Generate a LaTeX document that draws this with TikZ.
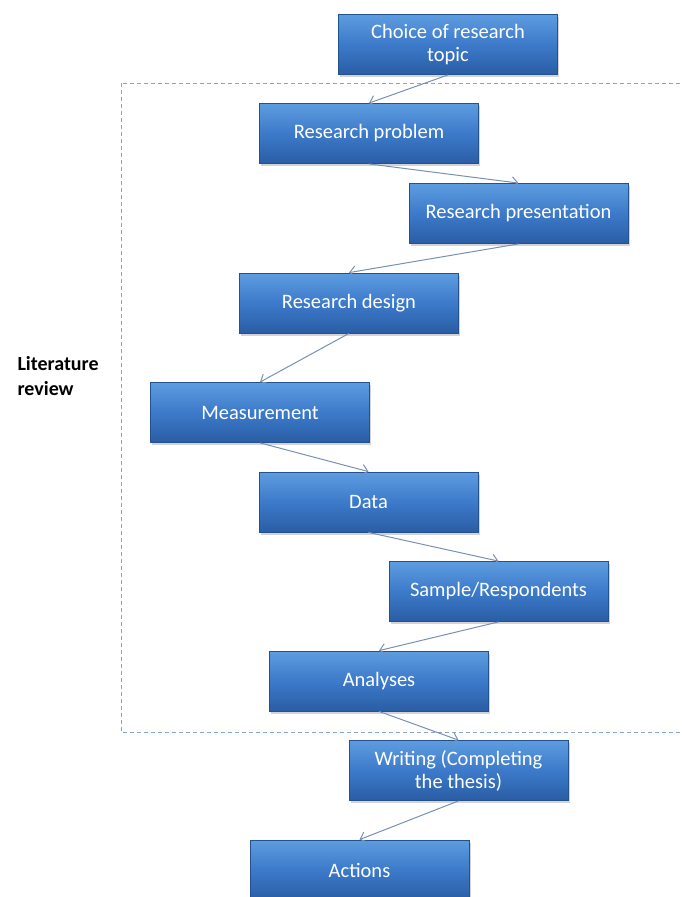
\documentclass[tikz,border=0pt]{standalone}
\usepackage{fontspec}
\setmainfont{Carlito}
\usetikzlibrary{arrows.meta, shadows}
\definecolor{boxtop}{HTML}{5E9CE0}
\definecolor{boxmid}{HTML}{3C7ACA}
\definecolor{boxbottom}{HTML}{2A5DA4}
\definecolor{boxedge}{HTML}{24528F}
\definecolor{arrowgray}{HTML}{7890B4}
\definecolor{framegray}{HTML}{8AA3C6}

\begin{document}
\begin{tikzpicture}[x=1pt,y=-1pt,
  stagebox/.style={rectangle, draw=boxedge, line width=0.8pt, top color=boxtop, bottom color=boxbottom, middle color=boxmid, text=white, minimum width=219pt, minimum height=60pt, inner sep=0pt, align=center, font=\fontsize{20.5}{23}\selectfont, drop shadow={shadow xshift=1.5pt, shadow yshift=-2.5pt, opacity=0.35}},
  flowarrow/.style={draw=arrowgray, line width=1pt, -{Straight Barb[length=6pt,width=11pt]}}]
\useasboundingbox (0,0) rectangle (681,897);
\draw[framegray, line width=0.9pt, dash pattern=on 4pt off 3pt] (121,83) rectangle (700,732);
\node[anchor=west, align=left, font=\fontsize{20}{25}\selectfont\bfseries] (litlabel) at (14,376) {Literature\\review};
\node[stagebox] (choice) at (448.0,44.5) {Choice of research\\topic};
\node[stagebox] (problem) at (369.0,133.5) {Research problem};
\node[stagebox] (presentation) at (518.5,213.5) {Research presentation};
\node[stagebox] (design) at (349.0,303.0) {Research design};
\node[stagebox] (measurement) at (260.0,412.5) {Measurement};
\node[stagebox] (data) at (368.5,502.0) {Data};
\node[stagebox] (sample) at (498.5,591.5) {Sample/Respondents};
\node[stagebox] (analyses) at (379.0,681.0) {Analyses};
\node[stagebox] (writing) at (458.5,770.5) {Writing (Completing\\the thesis)};
\node[stagebox] (actions) at (359.5,870.0) {Actions};
\draw[flowarrow] (choice.south) -- (problem.north);
\draw[flowarrow] (problem.south) -- (presentation.north);
\draw[flowarrow] (presentation.south) -- (design.north);
\draw[flowarrow] (design.south) -- (measurement.north);
\draw[flowarrow] (measurement.south) -- (data.north);
\draw[flowarrow] (data.south) -- (sample.north);
\draw[flowarrow] (sample.south) -- (analyses.north);
\draw[flowarrow] (analyses.south) -- (writing.north);
\draw[flowarrow] (writing.south) -- (actions.north);
\end{tikzpicture}
\end{document}
